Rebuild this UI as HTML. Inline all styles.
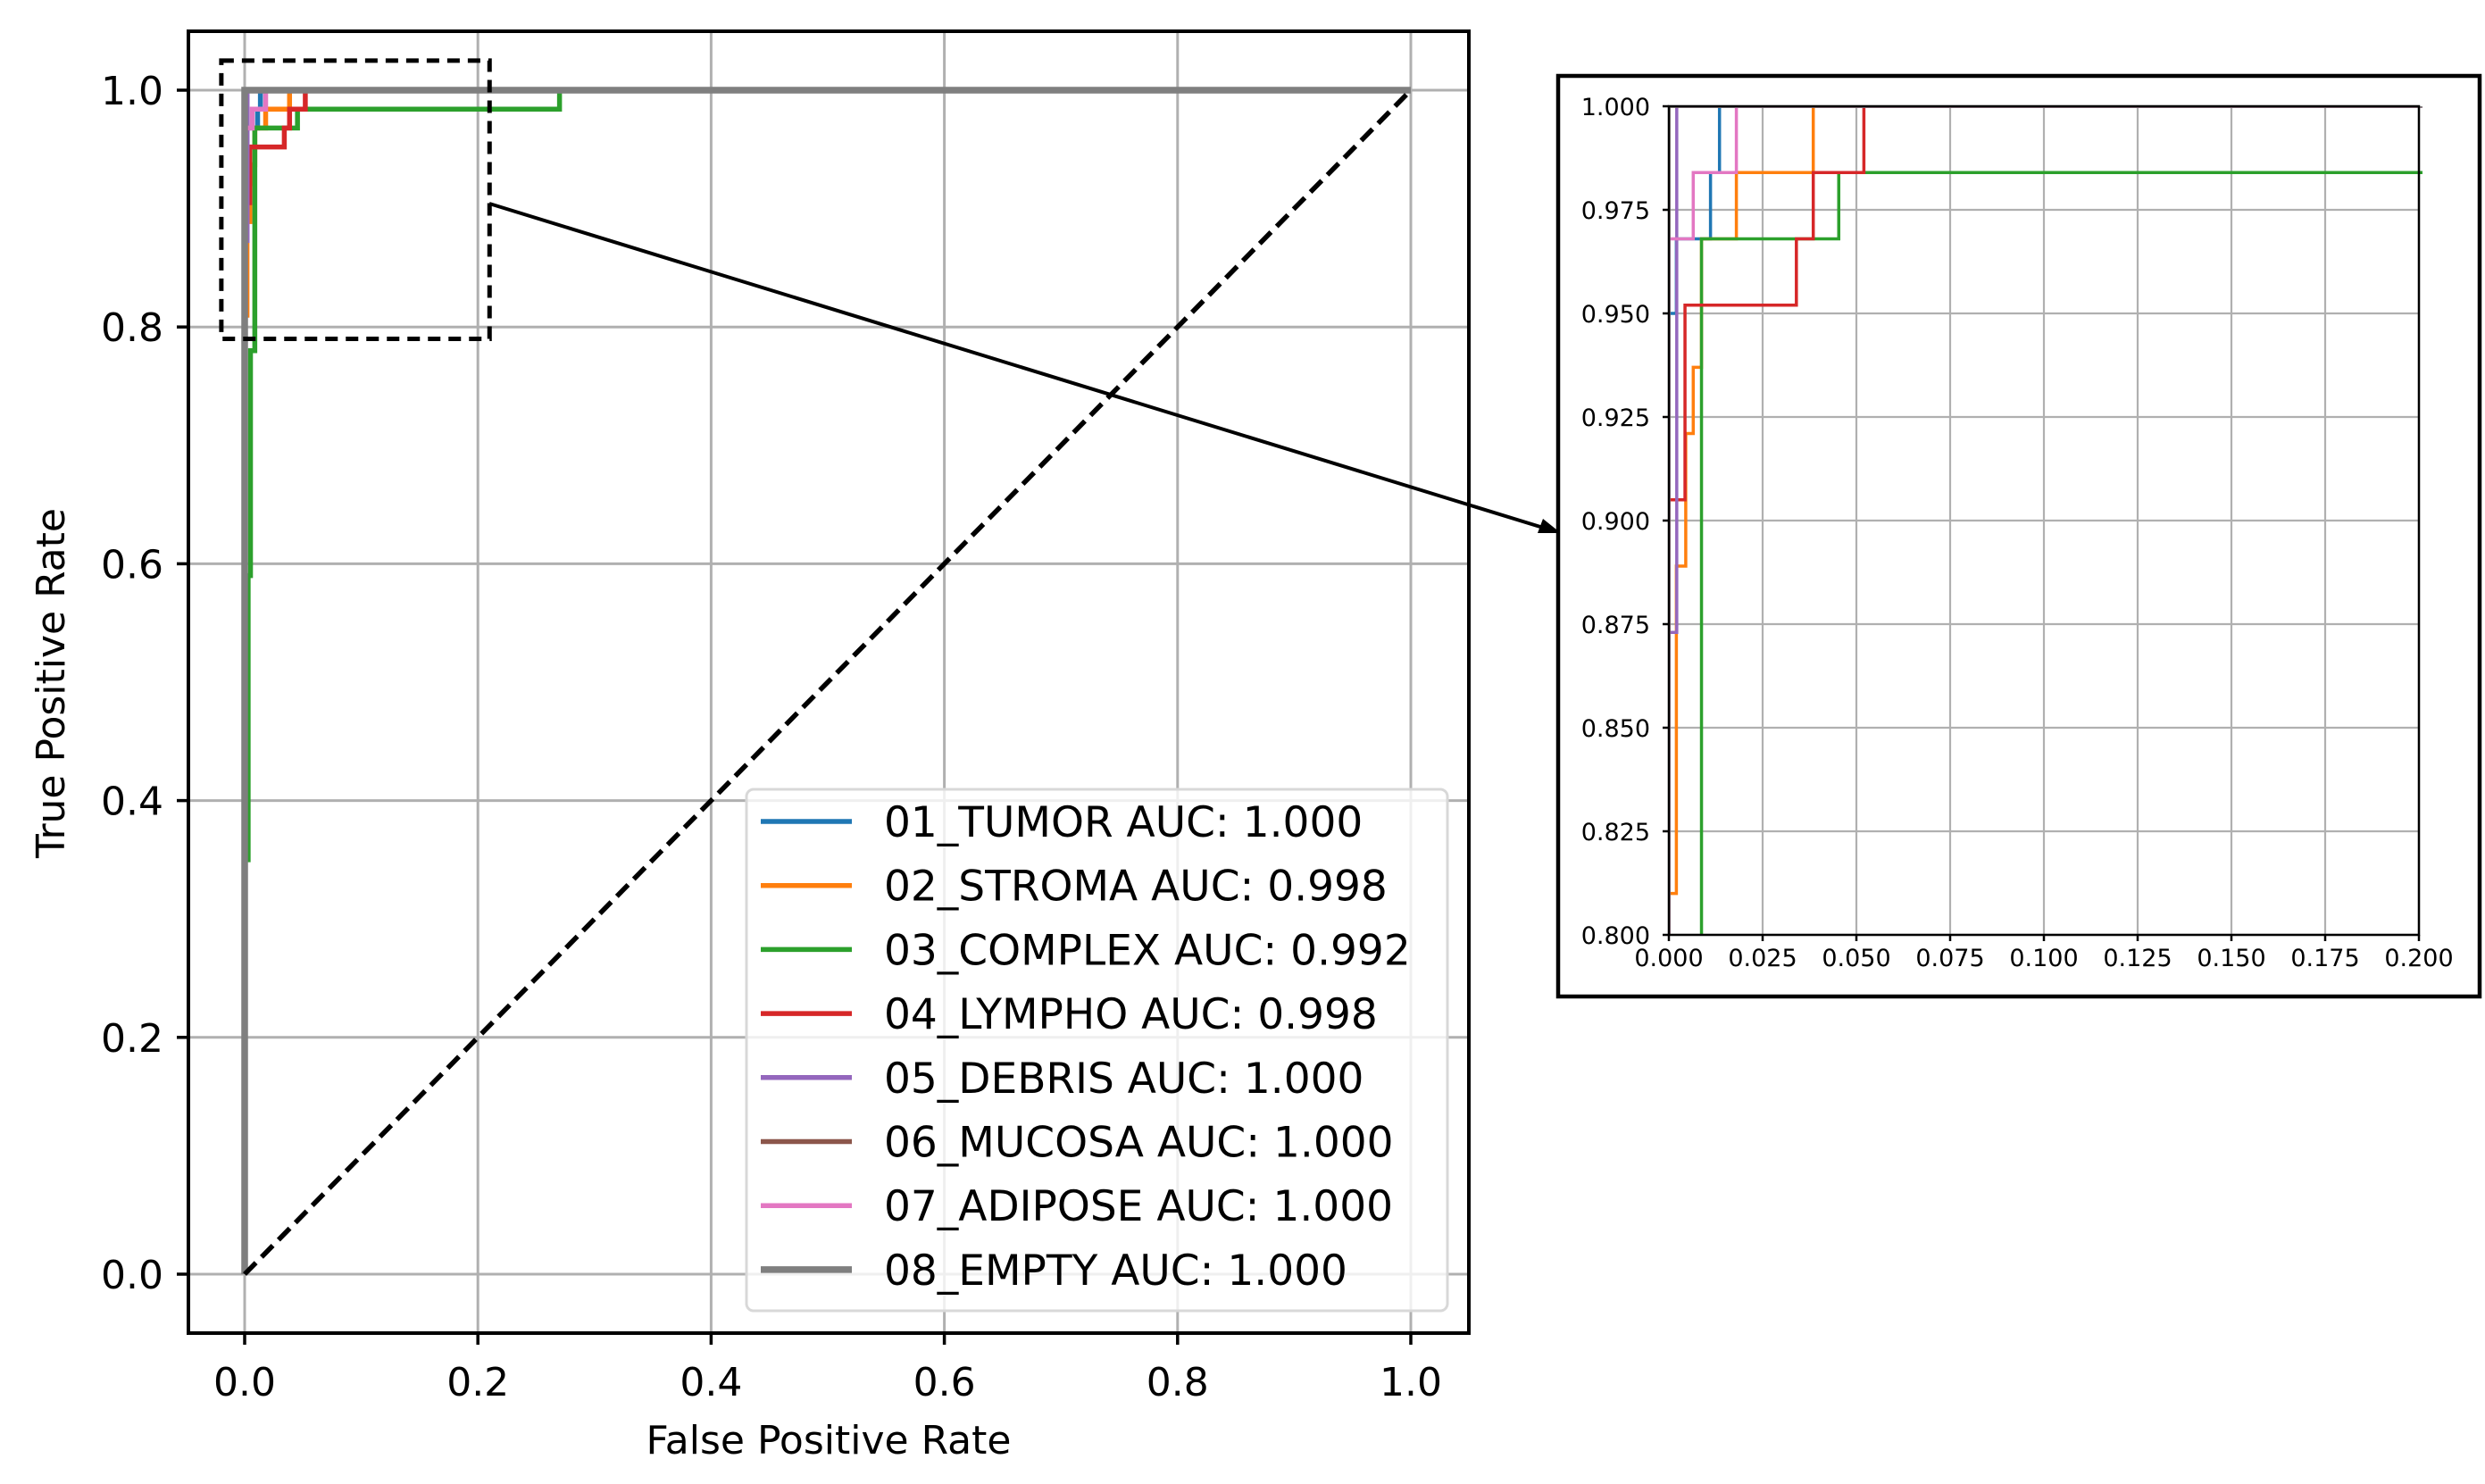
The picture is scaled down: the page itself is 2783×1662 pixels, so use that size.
<!DOCTYPE html>
<html><head><meta charset="utf-8"><style>
html,body{margin:0;padding:0;background:#fff;width:2783px;height:1662px;overflow:hidden;}
svg{display:block;font-family:"DejaVu Sans","Liberation Sans",sans-serif;}
</style></head><body>
<svg id="chart" width="2783" height="1662" viewBox="0 0 2783 1662" xmlns="http://www.w3.org/2000/svg">
<defs>
<clipPath id="mainClip"><rect x="211" y="35" width="1434" height="1458"/></clipPath>
<clipPath id="insetClip"><rect x="1869" y="119" width="844" height="928"/></clipPath>
</defs>
<g id="main"></g>
<g id="inset"></g>
</svg>
<script>
const classNames = ["01_TUMOR","02_STROMA","03_COMPLEX","04_LYMPHO","05_DEBRIS","06_MUCOSA","07_ADIPOSE","08_EMPTY"];
const aucValues = ["1.000","0.998","0.992","0.998","1.000","1.000","1.000","1.000"];
const colors = ["#1f77b4","#ff7f0e","#2ca02c","#d62728","#9467bd","#8c564b","#e377c2","#7f7f7f"];
const fprTumor = [0,0,0.002,0.002,0.0111,0.0111,0.0135,0.0135,1];
const tprTumor = [0,0.95,0.95,0.968,0.968,0.984,0.984,1,1];
const fprStroma = [0,0,0.002,0.002,0.0045,0.0045,0.0065,0.0065,0.0087,0.0087,0.018,0.018,0.0385,0.0385,1];
const tprStroma = [0,0.81,0.81,0.889,0.889,0.921,0.921,0.937,0.937,0.968,0.968,0.984,0.984,1,1];
const fprComplex = [0,0,0.003,0.003,0.005,0.005,0.0087,0.0087,0.0453,0.0453,0.27,0.27,1];
const tprComplex = [0,0.35,0.35,0.59,0.59,0.78,0.78,0.968,0.968,0.984,0.984,1,1];
const fprLympho = [0,0,0.0043,0.0043,0.034,0.034,0.0385,0.0385,0.052,0.052,1];
const tprLympho = [0,0.905,0.905,0.952,0.952,0.968,0.968,0.984,0.984,1,1];
const fprDebris = [0,0,0.0021,0.0021,1];
const tprDebris = [0,0.873,0.873,1,1];
const fprMucosa = [0,0,1];
const tprMucosa = [0,1,1];
const fprAdipose = [0,0,0.0065,0.0065,0.018,0.018,1];
const tprAdipose = [0,0.968,0.968,0.984,0.984,1,1];
const fprEmpty = [0,0,1];
const tprEmpty = [0,1,1];
const mainTicks = [0,0.2,0.4,0.6,0.8,1.0];
const mainTickLabels = ["0.0","0.2","0.4","0.6","0.8","1.0"];
const insetXTicks = [0,0.025,0.05,0.075,0.1,0.125,0.15,0.175,0.2];
const insetXLabels = ["0.000","0.025","0.050","0.075","0.100","0.125","0.150","0.175","0.200"];
const insetYTicks = [0.8,0.825,0.85,0.875,0.9,0.925,0.95,0.975,1.0];
const insetYLabels = ["0.800","0.825","0.850","0.875","0.900","0.925","0.950","0.975","1.000"];
const zoomBox = [-0.02,0.21,0.79,1.025];

const series = [[fprTumor,tprTumor],[fprStroma,tprStroma],[fprComplex,tprComplex],[fprLympho,tprLympho],[fprDebris,tprDebris],[fprMucosa,tprMucosa],[fprAdipose,tprAdipose],[fprEmpty,tprEmpty]];
const NS="http://www.w3.org/2000/svg";
function mk(tag,attrs,parent){const e=document.createElementNS(NS,tag);for(const k in attrs)e.setAttribute(k,attrs[k]);parent.appendChild(e);return e;}
const mx=v=>274+v*1306, my=v=>1427-v*1326;
const ix=v=>1869+v/0.2*840, iy=v=>1047-(v-0.8)/0.2*928;
const main=document.getElementById('main'), inset=document.getElementById('inset');

mainTicks.forEach((t,i)=>{
  let g=mk('line',{x1:mx(t),x2:mx(t),y1:35,y2:1493,stroke:'#b0b0b0','stroke-width':3},main);
  
  
  g=mk('line',{x1:211,x2:1645,y1:my(t),y2:my(t),stroke:'#b0b0b0','stroke-width':3},main);
  
  
  let tk=mk('line',{x1:mx(t),x2:mx(t),y1:1493,y2:1506,stroke:'#000','stroke-width':3.5},main);
  
  
  tk=mk('line',{x1:198,x2:211,y1:my(t),y2:my(t),stroke:'#000','stroke-width':3.5},main);
  
  
  let tx=mk('text',{x:mx(t),y:1563,'font-size':44,'text-anchor':'middle'},main);tx.textContent=mainTickLabels[i];
  
  
  tx=mk('text',{x:183,y:my(t)+16,'font-size':44,'text-anchor':'end'},main);tx.textContent=mainTickLabels[i];
  
  
});
const cg=mk('g',{'clip-path':'url(#mainClip)'},main);


series.forEach((s,k)=>{
  const pts=s[0].map((f,j)=>mx(f)+','+my(s[1][j])).join(' ');
  const p=mk('polyline',{points:pts,fill:'none',stroke:colors[k],'stroke-width':k===7?7.5:5.5,'stroke-linejoin':'miter'},cg);
  
  
});
const diag=mk('line',{x1:mx(0),y1:my(0),x2:mx(1),y2:my(1),stroke:'#000','stroke-width':5.5,'stroke-dasharray':'18,9'},cg);


const frame=mk('rect',{x:211,y:35,width:1434,height:1458,fill:'none',stroke:'#000','stroke-width':4},main);


const zb=mk('rect',{x:mx(zoomBox[0]),y:my(zoomBox[3]),width:mx(zoomBox[1])-mx(zoomBox[0]),height:my(zoomBox[2])-my(zoomBox[3]),fill:'none',stroke:'#000','stroke-width':5,'stroke-dasharray':'14,9'},main);


const arr=mk('line',{x1:548,y1:228,x2:1738,y2:594,stroke:'#000','stroke-width':4},main);


const ah=mk('polygon',{points:'1748,597 1722,597 1728,581',fill:'#000'},main);


let yl=mk('text',{x:0,y:0,'font-size':44,'text-anchor':'middle',transform:'translate(72,765) rotate(-90)'},main);yl.textContent='True Positive Rate';


let xl=mk('text',{x:928,y:1628,'font-size':44,'text-anchor':'middle'},main);xl.textContent='False Positive Rate';


const lg=mk('g',{},main);


const lb=mk('rect',{x:836,y:884,width:785,height:584,rx:8,fill:'#fff','fill-opacity':0.8,stroke:'#d8d8d8','stroke-width':3},lg);


classNames.forEach((c,k)=>{
  const y=920+k*71.7;
  const h=mk('line',{x1:852,x2:954,y1:y,y2:y,stroke:colors[k],'stroke-width':k===7?7.5:5.5},lg);
  
  
  const t=mk('text',{x:990,y:y+17,'font-size':47},lg);t.textContent=c+' AUC: '+aucValues[k];
  
  
});
const ob=mk('rect',{x:1745,y:85,width:1032,height:1031,fill:'#fff',stroke:'#000','stroke-width':4.5},inset);


insetXTicks.forEach((t,i)=>{
  const g=mk('line',{x1:ix(t),x2:ix(t),y1:119,y2:1047,stroke:'#b0b0b0','stroke-width':2.2},inset);
  
  
  const tk=mk('line',{x1:ix(t),x2:ix(t),y1:1047,y2:1054,stroke:'#000','stroke-width':2.5},inset);
  
  
  const tx=mk('text',{x:ix(t),y:1082,'font-size':27,'text-anchor':'middle'},inset);tx.textContent=insetXLabels[i];
  
  
});
insetYTicks.forEach((t,i)=>{
  const g=mk('line',{x1:1869,x2:ix(0.2),y1:iy(t),y2:iy(t),stroke:'#b0b0b0','stroke-width':2.2},inset);
  
  
  const tk=mk('line',{x1:1862,x2:1869,y1:iy(t),y2:iy(t),stroke:'#000','stroke-width':2.5},inset);
  
  
  const tx=mk('text',{x:1848,y:iy(t)+10,'font-size':27,'text-anchor':'end'},inset);tx.textContent=insetYLabels[i];
  
  
});
const ig=mk('g',{'clip-path':'url(#insetClip)'},inset);


series.forEach((s,k)=>{
  const pts=s[0].map((f,j)=>ix(f)+','+iy(s[1][j])).join(' ');
  const p=mk('polyline',{points:pts,fill:'none',stroke:colors[k],'stroke-width':3.5},ig);
  
  
});
const ifr=mk('rect',{x:1869,y:119,width:840,height:928,fill:'none',stroke:'#000','stroke-width':2.5},inset);


</script>
</body></html>
